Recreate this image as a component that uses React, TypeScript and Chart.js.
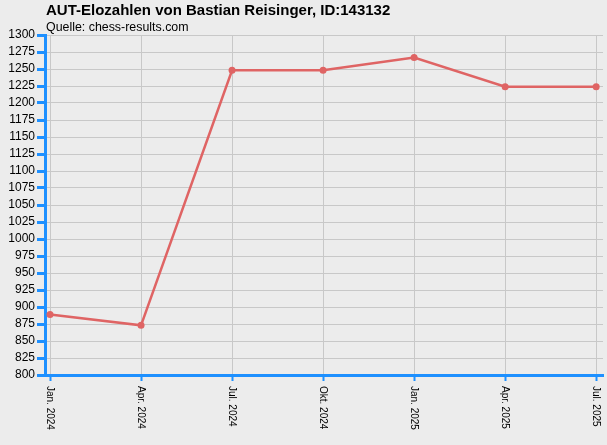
import { useEffect, useRef } from "react";
import { Chart, registerables } from "chart.js";

Chart.register(...registerables);

const TITLE = "AUT-Elozahlen von Bastian Reisinger, ID:143132";
const SUBTITLE = "Quelle: chess-results.com";

const periods = ["Jan. 2024", "Apr. 2024", "Jul. 2024", "Okt. 2024", "Jan. 2025", "Apr. 2025", "Jul. 2025"];
const elo = [889, 873, 1248, 1248, 1267, 1224, 1224];

const Y_MIN = 800;
const Y_MAX = 1300;
const Y_STEP = 25;

const BLUE = "#1e90ff";
const GRID = "#c8c8c8";
const LINE = "#df6464";

const headerPlugin = {
  id: "header",
  afterDraw(chart: Chart) {
    const ctx = chart.ctx;
    const left = chart.chartArea.left + 1;
    ctx.save();
    ctx.fillStyle = "#000";
    ctx.textAlign = "left";
    ctx.textBaseline = "alphabetic";
    ctx.font = "bold 15px 'Liberation Sans', Arial, sans-serif";
    ctx.fillText(TITLE, left, 15);
    ctx.font = "12.4px 'Liberation Sans', Arial, sans-serif";
    ctx.fillText(SUBTITLE, left, 31);

    // rotated x labels, reading top to bottom
    const xs = chart.scales.x;
    ctx.font = "10px 'Liberation Sans', Arial, sans-serif";
    ctx.textBaseline = "middle";
    periods.forEach((p, i) => {
      const px = xs.getPixelForValue(i);
      ctx.save();
      ctx.translate(px, chart.chartArea.bottom + 11);
      ctx.rotate(Math.PI / 2);
      ctx.fillText(p, 0, 0);
      ctx.restore();
    });
    ctx.restore();
  },
};

export default function App() {
  const canvasRef = useRef<HTMLCanvasElement>(null);
  const chartRef = useRef<Chart | null>(null);

  useEffect(() => {
    document.body.style.margin = "0";
    document.body.style.background = "#ececec";
    if (!canvasRef.current) return;
    if (chartRef.current) chartRef.current.destroy();

    chartRef.current = new Chart(canvasRef.current, {
      type: "line",
      data: {
        datasets: [
          {
            data: elo.map((v, i) => ({ x: i, y: v })),
            borderColor: LINE,
            backgroundColor: LINE,
            borderWidth: 2.5,
            pointRadius: 3.5,
            pointHoverRadius: 3.5,
            pointBorderWidth: 0,
            tension: 0,
          },
        ],
      },
      options: {
        animation: false,
        responsive: true,
        maintainAspectRatio: false,
        layout: { padding: { top: 35, right: 4, left: 0, bottom: 0 } },
        plugins: {
          legend: { display: false },
          tooltip: { enabled: false },
        },
        scales: {
          x: {
            type: "linear",
            min: -0.055,
            max: 6.075,
            afterBuildTicks: (scale: any) => {
              scale.ticks = periods.map((_, i) => ({ value: i }));
            },
            afterFit: (scale: any) => {
              scale.height = 70;
            },
            ticks: { display: false },
            grid: {
              color: GRID,
              lineWidth: 1,
              tickColor: BLUE,
              tickWidth: 2,
              tickLength: 6,
              drawTicks: true,
            },
            border: { color: BLUE, width: 3 },
          },
          y: {
            min: Y_MIN,
            max: Y_MAX,
            afterFit: (scale: any) => {
              scale.width = 45;
            },
            ticks: {
              stepSize: Y_STEP,
              autoSkip: false,
              maxTicksLimit: 100,
              callback: (v: any) => String(v),
              color: "#000",
              padding: 2,
              font: { family: "'Liberation Sans', Arial, sans-serif", size: 12 },
            },
            grid: {
              color: GRID,
              lineWidth: 1,
              tickColor: BLUE,
              tickWidth: 3,
              tickLength: 8,
            },
            border: { color: BLUE, width: 3 },
          },
        },
      },
      plugins: [headerPlugin],
    });

    return () => {
      if (chartRef.current) {
        chartRef.current.destroy();
        chartRef.current = null;
      }
    };
  }, []);

  return (
    <div style={{ position: "relative", width: 607, height: 445, background: "#ececec" }}>
      <canvas ref={canvasRef} />
    </div>
  );
}
